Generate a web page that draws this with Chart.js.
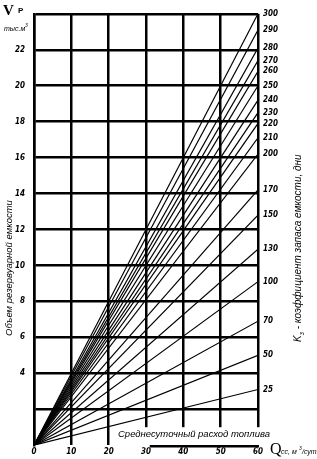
<!DOCTYPE html>
<html>
<head>
<meta charset="utf-8">
<script src="https://cdn.jsdelivr.net/npm/chart.js@4.4.0/dist/chart.umd.min.js"></script>
<style>
    body { margin: 0; background: #fff; }
    canvas { display: block; }
</style>
</head>
<body>
<canvas id="tankChart" width="317" height="459"></canvas>
<script>
// K3 - storage coefficient, days (one ray per value)
const kDays = [300, 290, 280, 270, 260, 250, 240, 230, 220, 210, 200, 170, 150, 130, 100, 70, 50, 25];
// Volume (thousand m3) where each ray meets Q = 60
const volumeAt60 = [24.0, 23.1, 22.1, 21.4, 20.8, 20.0, 19.2, 18.5, 17.9, 17.1, 16.2, 14.2, 12.8, 10.9, 9.1, 6.9, 5.0, 3.1];
// Average daily consumption range, m3/day
const flowRange = [0, 60];
const flowTicks = [0, 10, 20, 30, 40, 50, 60];
const volumeRange = [0, 24];
const volumeTicks = [4, 6, 8, 10, 12, 14, 16, 18, 20, 22];

const tickFont = { family: "'Liberation Sans Narrow', 'DejaVu Sans Condensed', sans-serif", size: 8, weight: 'bold', style: 'italic' };
const tickFontCss = "italic bold 8px 'Liberation Sans Narrow', 'DejaVu Sans Condensed', sans-serif";
const textFont = "'Liberation Sans', Arial, sans-serif";

// Draw the K3 value next to the end of each ray
const lineEndLabels = {
    id: 'lineEndLabels',
    afterDatasetsDraw(chart) {
        const ctx = chart.ctx;
        const xs = chart.scales.x;
        const ys = chart.scales.y;
        ctx.save();
        ctx.font = tickFontCss;
        ctx.fillStyle = '#000';
        ctx.textBaseline = 'middle';
        ctx.textAlign = 'left';
        kDays.forEach(function (k, i) {
            ctx.fillText(String(k), xs.getPixelForValue(flowRange[1]) + 5, ys.getPixelForValue(volumeAt60[i]));
        });
        ctx.restore();
    }
};

// White band under the x caption and the partial bottom line
const captionBand = {
    id: 'captionBand',
    beforeDatasetsDraw(chart) {
        const ctx = chart.ctx;
        const area = chart.chartArea;
        ctx.save();
        ctx.fillStyle = '#fff';
        ctx.fillRect(120, area.bottom - 18, area.right + 4 - 120, 20);
        ctx.strokeStyle = '#000';
        ctx.lineWidth = 2.5;
        ctx.beginPath();
        ctx.moveTo(chart.scales.x.getPixelForValue(31), area.bottom + 1);
        ctx.lineTo(area.right + 1, area.bottom + 1);
        ctx.stroke();
        ctx.restore();
    }
};

// Axis titles and captions
const chartTexts = {
    id: 'chartTexts',
    afterDraw(chart) {
        const ctx = chart.ctx;
        const area = chart.chartArea;
        ctx.save();
        ctx.fillStyle = '#000';

        // top-left: V p, thousand m3
        ctx.textBaseline = 'alphabetic';
        ctx.textAlign = 'left';
        ctx.font = "bold 15px 'Liberation Serif', serif";
        ctx.fillText('V', 3, 15);
        ctx.font = "bold 8px 'Liberation Sans', sans-serif";
        ctx.fillText('P', 18, 13);
        ctx.font = "italic 7px " + textFont;
        ctx.fillText('тыс.м', 4, 31);
        ctx.font = "italic 5px " + textFont;
        ctx.fillText('3', 25, 27);

        // bottom caption
        ctx.font = "italic 9.5px " + textFont;
        ctx.textAlign = 'center';
        ctx.textBaseline = 'middle';
        ctx.fillText('Среднесуточный расход топлива', 194, area.bottom - 11);

        // bottom-right: Q cc, m3/day
        ctx.textAlign = 'left';
        ctx.textBaseline = 'alphabetic';
        ctx.font = "16px 'Liberation Serif', serif";
        ctx.fillText('Q', 270, 454);
        ctx.font = "italic 7px " + textFont;
        ctx.fillText('сс, м', 281, 454);
        ctx.font = "italic 5px " + textFont;
        ctx.fillText('3', 299, 450);
        ctx.font = "italic 7px " + textFont;
        ctx.fillText('/сут.', 302, 454);

        // left axis title
        ctx.save();
        ctx.translate(12, 268);
        ctx.rotate(-Math.PI / 2);
        ctx.font = "italic 9.5px " + textFont;
        ctx.textAlign = 'center';
        ctx.textBaseline = 'alphabetic';
        ctx.fillText('Объем резервуарной емкости', 0, 0);
        ctx.restore();

        // right axis title
        ctx.save();
        ctx.translate(301, 342);
        ctx.rotate(-Math.PI / 2);
        ctx.textAlign = 'left';
        ctx.textBaseline = 'alphabetic';
        ctx.font = "italic 10px " + textFont;
        ctx.fillText('K', 0, 0);
        let w = ctx.measureText('K').width;
        ctx.font = "italic 7px " + textFont;
        ctx.fillText('з', w, 3);
        w += ctx.measureText('з').width;
        ctx.font = "italic 10px " + textFont;
        ctx.fillText(' - коэффициент запаса емкости, дни', w, 0);
        ctx.restore();

        ctx.restore();
    }
};

const datasets = kDays.map(function (k, i) {
    return {
        label: 'K3 = ' + k,
        data: [{ x: flowRange[0], y: 0 }, { x: flowRange[1], y: volumeAt60[i] }],
        borderColor: '#000',
        borderWidth: 1.2,
        pointRadius: 0,
        fill: false,
        tension: 0
    };
});

const ctx = document.getElementById('tankChart').getContext('2d');
window.myChart = new Chart(ctx, {
    type: 'line',
    data: { datasets: datasets },
    plugins: [captionBand, lineEndLabels, chartTexts],
    options: {
        responsive: false,
        animation: false,
        layout: { padding: { top: 5, right: 59, left: 0, bottom: 0 } },
        plugins: { legend: { display: false }, tooltip: { enabled: false } },
        scales: {
            x: {
                type: 'linear',
                min: flowRange[0],
                max: flowRange[1],
                afterFit: function (scale) { scale.height = 12; },
                afterBuildTicks: function (scale) {
                    scale.ticks = flowTicks.map(function (v) { return { value: v }; });
                },
                ticks: { color: '#000', font: tickFont, padding: 2, maxRotation: 0, autoSkip: false },
                grid: { color: '#000', lineWidth: 2.5, drawTicks: false },
                border: { display: false }
            },
            y: {
                type: 'linear',
                min: volumeRange[0],
                max: volumeRange[1],
                afterFit: function (scale) { scale.width = 34; },
                ticks: {
                    stepSize: 2,
                    color: '#000',
                    font: tickFont,
                    padding: 9,
                    autoSkip: false,
                    callback: function (v) { return volumeTicks.indexOf(v) >= 0 ? String(v) : ''; }
                },
                grid: {
                    color: function (c) { return c.tick && c.tick.value === 0 ? 'rgba(0,0,0,0)' : '#000'; },
                    lineWidth: 2.5,
                    drawTicks: false
                },
                border: { color: '#000', width: 2.5 }
            }
        }
    }
});
</script>
</body>
</html>
